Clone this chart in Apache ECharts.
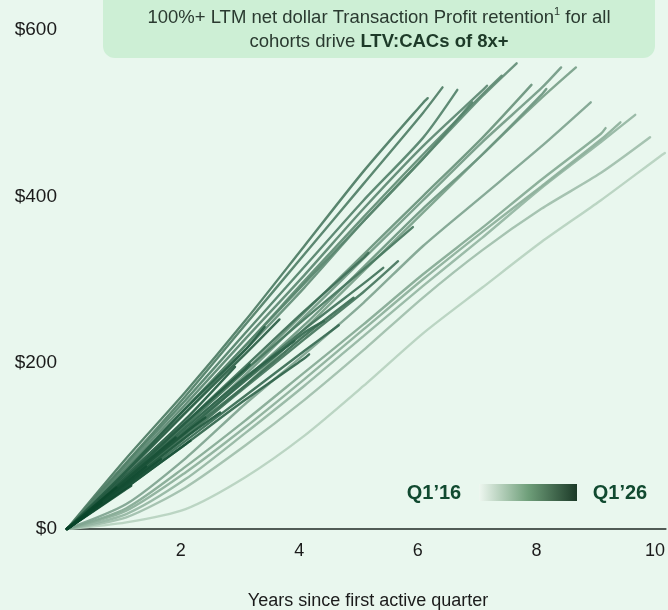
<!DOCTYPE html>
<html>
<head>
<meta charset="utf-8">
<script src="https://cdn.jsdelivr.net/npm/echarts@6/dist/echarts.min.js"></script>
<style>
  html, body { margin: 0; padding: 0; background: #e9f7ee; }
  #chart { width: 668px; height: 610px; }
</style>
</head>
<body>
<div id="chart"></div>
<script>
// Cumulative Transaction Profit per customer ($) by acquisition cohort.
// Values are sampled at months 1, 13, 25, ... of each cohort's life,
// followed by the value at the cohort's latest observed month.
const sampleMonths = [1, 13, 25, 37, 49, 61, 73, 85, 97, 109, 121];

const cohortLabels = [
  "Q1'16","Q2'16","Q3'16","Q4'16","Q1'17","Q2'17","Q3'17","Q4'17",
  "Q1'18","Q2'18","Q3'18","Q4'18","Q1'19","Q2'19","Q3'19","Q4'19",
  "Q1'20","Q2'20","Q3'20","Q4'20","Q1'21","Q2'21","Q3'21","Q4'21",
  "Q1'22","Q2'22","Q3'22","Q4'22","Q1'23","Q2'23","Q3'23","Q4'23",
  "Q1'24","Q2'24","Q3'24","Q4'24","Q1'25","Q2'25","Q3'25","Q4'25",
  "Q1'26"
];

const lastMonth = [
  122, 119, 116, 113, 110, 107, 104, 101, 98, 95, 92, 89, 86, 83, 80, 77,
  74, 71, 68, 65, 62, 59, 56, 53, 50, 47, 44, 41, 38, 35, 32, 29,
  26, 23, 20, 17, 14, 11, 8, 5, 2
];

const cohorts2016 = [
  [0, 8, 24, 62, 112, 172, 235, 290, 345, 395, 448, 452],
  [0, 14, 50, 100, 155, 215, 278, 335, 385, 428, 471],
  [0, 18, 60, 115, 172, 232, 292, 350, 410, 465, 498],
  [0, 22, 68, 122, 180, 240, 300, 357, 412, 468, 489]
];
const cohorts2017 = [
  [0, 25, 75, 130, 188, 246, 306, 362, 420, 475, 482],
  [0, 30, 85, 150, 210, 272, 340, 400, 460, 513],
  [0, 50, 110, 172, 240, 310, 380, 450, 518, 555],
  [0, 58, 120, 185, 255, 325, 395, 465, 530, 555]
];
const cohorts2018 = [
  [0, 55, 115, 180, 245, 315, 385, 450, 522, 529],
  [0, 60, 125, 190, 260, 330, 400, 470, 534],
  [0, 70, 140, 215, 290, 370, 445, 520, 560],
  [0, 72, 145, 220, 298, 375, 450, 522, 545]
];
const cohorts2019 = [
  [0, 75, 150, 228, 305, 385, 460, 527, 533],
  [0, 72, 145, 220, 295, 370, 445, 513],
  [0, 78, 155, 235, 315, 395, 470, 528],
  [0, 80, 160, 245, 330, 415, 500, 531]
];
const cohorts2020 = [
  [0, 85, 165, 250, 340, 430, 512, 518],
  [0, 62, 125, 190, 252, 312, 363],
  [0, 55, 112, 170, 228, 285, 322],
  [0, 58, 118, 180, 240, 295, 314]
];
const cohorts2021 = [
  [0, 62, 128, 195, 262, 326, 332],
  [0, 56, 115, 172, 232, 278],
  [0, 52, 106, 160, 214, 245],
  [0, 58, 118, 178, 236, 250]
];
const cohorts2022 = [
  [0, 50, 102, 155, 205, 210],
  [0, 60, 122, 182, 226],
  [0, 68, 140, 210, 252],
  [0, 70, 145, 215, 243]
];
const cohorts2023 = [
  [0, 62, 128, 192, 198],
  [0, 65, 132, 195],
  [0, 54, 110, 140],
  [0, 58, 116, 134]
];
const cohorts2024 = [
  [0, 50, 102, 106],
  [0, 60, 110],
  [0, 53, 84],
  [0, 56, 75]
];
const cohorts2025 = [
  [0, 48, 52],
  [0, 50],
  [0, 32],
  [0, 17]
];
const cohorts2026 = [
  [0, 4]
];

const yTicks = [0, 200, 400, 600];
const xTickMonths = [24, 48, 72, 96, 120];

const cohortValues = [].concat(
  cohorts2016, cohorts2017, cohorts2018, cohorts2019, cohorts2020,
  cohorts2021, cohorts2022, cohorts2023, cohorts2024, cohorts2025, cohorts2026
);

// Older cohorts fade towards a pale mint, newer ones deepen to forest green.
const lightRGB = [182, 209, 191];
const darkRGB = [6, 66, 39];
function cohortColor(k, n) {
  const t = Math.pow(k / (n - 1), 0.55);
  const c = lightRGB.map((v, i) => Math.round(v + (darkRGB[i] - v) * t));
  return 'rgb(' + c.join(',') + ')';
}

const series = cohortValues.map((vals, k) => {
  const months = sampleMonths.filter(m => m < lastMonth[k]).concat(lastMonth[k]);
  return {
    name: cohortLabels[k],
    type: 'line',
    data: months.map((m, i) => [m, vals[i]]),
    showSymbol: false,
    smooth: 0.25,
    silent: true,
    z: 2 + k,
    lineStyle: { width: 2.4, color: cohortColor(k, cohortValues.length), opacity: 0.92, cap: 'round' }
  };
});

const FONT = '"Liberation Sans", Arial, sans-serif';
const chart = echarts.init(document.getElementById('chart'), null, { renderer: 'canvas' });

chart.setOption({
  backgroundColor: '#e9f7ee',
  animation: false,
  grid: { left: 67, right: 0, top: 30, bottom: 81, containLabel: false },
  xAxis: {
    type: 'value',
    min: 1,
    max: 122.2,
    axisLine: { show: true, lineStyle: { color: '#1f2a24', width: 1.5 } },
    axisTick: { show: false },
    splitLine: { show: false },
    axisLabel: {
      customValues: xTickMonths,
      formatter: v => String(Math.round(v / 12)),
      color: '#1b1b1b',
      fontSize: 18,
      fontFamily: FONT,
      margin: 13
    }
  },
  yAxis: {
    type: 'value',
    min: yTicks[0],
    max: yTicks[yTicks.length - 1],
    interval: yTicks[1] - yTicks[0],
    axisLine: { show: false },
    axisTick: { show: false },
    splitLine: { show: false },
    axisLabel: {
      formatter: v => '$' + v,
      color: '#1b1b1b',
      fontSize: 19,
      fontFamily: FONT,
      margin: 10
    }
  },
  graphic: [
    {
      type: 'rect',
      shape: { x: 103, y: -14, width: 552, height: 72, r: 12 },
      style: { fill: '#cdefd5' },
      z: 1
    },
    {
      type: 'text',
      x: 379, y: 30,
      style: {
        text: '{n|100%+ LTM net dollar Transaction Profit retention}{s|1}{n| for all}\n{n|cohorts drive }{b|LTV:CACs of 8x+}',
        align: 'center',
        verticalAlign: 'middle',
        rich: {
          n: { fontSize: 18.5, fontFamily: FONT, fill: '#2a3a30', lineHeight: 24 },
          s: { fontSize: 11, fontFamily: FONT, fill: '#2a3a30', verticalAlign: 'top', lineHeight: 12 },
          b: { fontSize: 18.5, fontFamily: FONT, fontWeight: 'bold', fill: '#1d3a28', lineHeight: 24 }
        }
      },
      z: 2
    },
    {
      type: 'text',
      x: 434, y: 493,
      style: { text: 'Q1’16', align: 'center', verticalAlign: 'middle', fontSize: 20, fontWeight: 'bold', fontFamily: FONT, fill: '#114a30' },
      z: 60
    },
    {
      type: 'rect',
      shape: { x: 479, y: 484, width: 98, height: 17 },
      style: {
        fill: new echarts.graphic.LinearGradient(0, 0, 1, 0, [
          { offset: 0, color: '#eef7f0' },
          { offset: 0.5, color: '#6f9f7a' },
          { offset: 1, color: '#1c3a28' }
        ])
      },
      z: 60
    },
    {
      type: 'text',
      x: 620, y: 493,
      style: { text: 'Q1’26', align: 'center', verticalAlign: 'middle', fontSize: 20, fontWeight: 'bold', fontFamily: FONT, fill: '#114a30' },
      z: 60
    },
    {
      type: 'text',
      x: 368, y: 601,
      style: { text: 'Years since first active quarter', align: 'center', verticalAlign: 'middle', fontSize: 18, fontFamily: FONT, fill: '#1b1b1b' },
      z: 60
    }
  ],
  series: series
});
</script>
</body>
</html>
